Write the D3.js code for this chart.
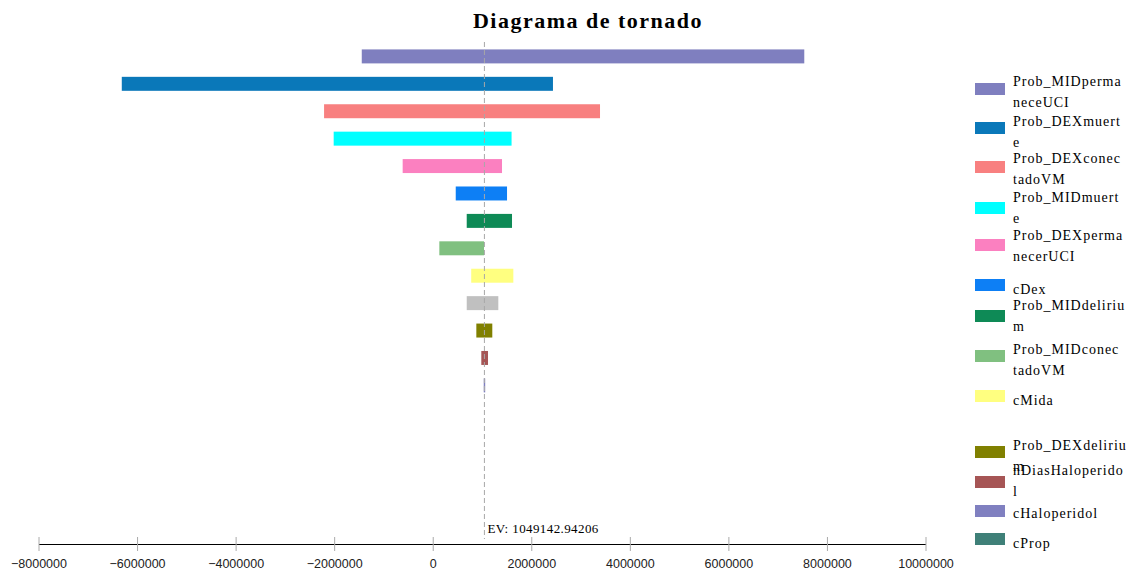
<!DOCTYPE html>
<html lang="es">
<head>
    <meta charset="utf-8">
    <title>Diagrama de tornado</title>
    <script src="https://d3js.org/d3.v7.min.js"></script>
    <style>
        body {
            margin: 0;
            background-color: #fff;
        }

        svg {
            display: block;
        }

        .title {
            font-family: "Liberation Serif", serif;
            font-weight: bold;
            font-size: 22px;
            letter-spacing: 1.5px;
        }

        .axis text {
            font-family: "Liberation Sans", sans-serif;
            font-size: 12.5px;
            fill: #222;
        }

        .ev-label {
            font-family: "Liberation Serif", serif;
            font-size: 13px;
            letter-spacing: 0.4px;
        }

        .legend text {
            font-family: "Liberation Serif", serif;
            font-size: 14px;
            letter-spacing: 1px;
        }
    </style>
</head>
<body>
    <svg id="chart" width="1130" height="573"></svg>

    <script>
        // data
        const categories = [
            "Prob_MIDpermaneceUCI", "Prob_DEXmuerte", "Prob_DEXconectadoVM", "Prob_MIDmuerte",
            "Prob_DEXpermanecerUCI", "cDex", "Prob_MIDdelirium", "Prob_MIDconectadoVM",
            "cMida", "", "Prob_DEXdelirium", "nDiasHaloperidol", "cHaloperidol", "cProp"
        ];
        const lowValues = [
            -1440000, -6310000, -2205000, -2010000, -610000, 467000, 690000,
            134000, 781000, 690000, 885000, 986000, 1035000, 1049142
        ];
        const highValues = [
            7540000, 2440000, 3395000, 1600000, 1406000, 1508000, 1609000,
            1041000, 1636000, 1331000, 1209000, 1122000, 1065000, 1049143
        ];
        const barColors = [
            "#7f7fbf", "#0a78b9", "#f88080", "#00ffff", "#fb80c0", "#0d7ff5", "#0e8a56",
            "#80c080", "#ffff80", "#c0c0c0", "#808000", "#a65555", "#8080c0", "#3f8078"
        ];
        // where the legend text wraps (characters on first line, 0 = no wrap)
        const legendBreaks = [13, 13, 13, 13, 13, 0, 15, 13, 0, 0, 15, 15, 0, 0];
        const tickValues = [-8000000, -6000000, -4000000, -2000000, 0, 2000000, 4000000, 6000000, 8000000, 10000000];
        const expectedValue = "1049142.94206";

        // legend layout
        const legendSwatchY = [89, 128, 167, 208, 245, 285, 316, 356, 396, 426, 452, 482, 511, 539];
        const legendTextY = [81, 121, 158, 197, 235, 289, 305, 349, 400, 430, 445, 470, 513, 543];

        const svg = d3.select("#chart");

        let x = d3.scaleLinear()
            .domain([-8000000, 10000000])
            .range([38.5, 925.5]);

        let y = d3.scaleBand()
            .domain(d3.range(categories.length))
            .range([42.7, 426.5])
            .paddingInner(0.49)
            .paddingOuter(0.245);

        const axisY = 544;

        // title
        svg.append("text")
            .attr("class", "title")
            .attr("x", 588)
            .attr("y", 28)
            .attr("text-anchor", "middle")
            .text("Diagrama de tornado");

        // bars
        svg.append("g")
            .selectAll("rect")
            .data(categories)
            .join("rect")
            .attr("x", (d, i) => x(Math.min(lowValues[i], highValues[i])))
            .attr("y", (d, i) => y(i))
            .attr("width", (d, i) => Math.abs(x(highValues[i]) - x(lowValues[i])))
            .attr("height", y.bandwidth())
            .attr("fill", (d, i) => barColors[i]);

        // expected value line
        const evX = x(+expectedValue);
        svg.append("line")
            .attr("x1", evX).attr("x2", evX)
            .attr("y1", 42).attr("y2", 539)
            .attr("stroke", "#a8a8a8")
            .attr("stroke-width", 1)
            .attr("stroke-dasharray", "5,3");

        svg.append("text")
            .attr("class", "ev-label")
            .attr("x", evX + 3)
            .attr("y", 533)
            .text("EV: " + expectedValue);

        // x axis
        const axis = svg.append("g")
            .attr("class", "axis")
            .attr("transform", `translate(0,${axisY})`)
            .call(d3.axisBottom(x)
                .tickValues(tickValues)
                .tickSizeOuter(0)
                .tickSizeInner(7)
                .tickPadding(8)
                .tickFormat(d3.format("d")));

        axis.select(".domain")
            .attr("stroke", "#000")
            .attr("stroke-width", 1.2);
        axis.selectAll(".tick line")
            .attr("y1", -7)
            .attr("y2", 7)
            .attr("stroke", "#aaa");
        axis.selectAll(".tick text")
            .attr("y", 15);

        // legend
        const legend = svg.append("g").attr("class", "legend");

        categories.forEach((name, i) => {
            if (!name) return;
            legend.append("rect")
                .attr("x", 975)
                .attr("y", legendSwatchY[i] - 6)
                .attr("width", 30)
                .attr("height", 12)
                .attr("fill", barColors[i]);

            let lines = legendBreaks[i] ? [name.slice(0, legendBreaks[i]), name.slice(legendBreaks[i])] : [name];
            lines.forEach((line, j) => {
                legend.append("text")
                    .attr("x", 1013)
                    .attr("y", legendTextY[i] + j * 21)
                    .attr("dy", "0.35em")
                    .text(line);
            });
        });
    </script>
</body>
</html>
